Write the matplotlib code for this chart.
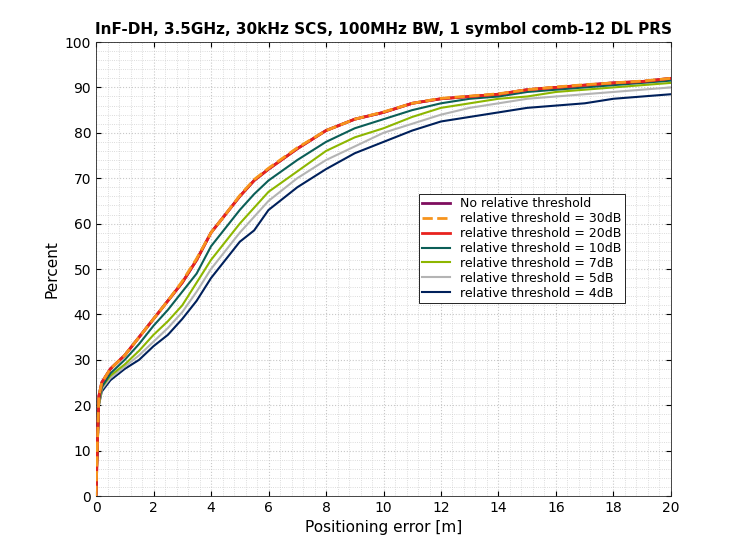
import matplotlib
matplotlib.use("Agg")
import matplotlib.pyplot as plt
from matplotlib.ticker import MultipleLocator

x = [0,0.05,0.1,0.2,0.5,1,1.5,2,2.5,3,3.5,4,4.5,5,5.5,6,7,8,9,10,11,12,13,14,15,16,17,18,19,20]
y_none = [0,12,22,25,28,31,35,39,43,47,52,58,62,66,69.5,72,76.5,80.5,83,84.5,86.5,87.5,88,88.5,89.5,90,90.5,91,91.3,92]
y_30 = [0,12,22,25,28,31,35,39,43,47.3,52.3,58,62,66.2,69.7,72.2,76.7,80.5,83,84.6,86.5,87.6,88.1,88.6,89.5,90.1,90.6,91,91.4,92]
y_20 = [0,12,22,25,28,31,35,39,43,47,52,58,62,66,69.5,72,76.5,80.5,83,84.5,86.5,87.5,88,88.5,89.5,90,90.5,91,91.3,92]
y_10 = [0,11,21,24,27,30,33.5,37.5,41,45,49,55,59,63,66.5,69.5,74,78,81,83,85,86.5,87.5,88,89,89.5,90,90.5,91,91.5]
y_7 = [0,10,20,24,26.5,29,32,35.5,38.5,42,47,52,56,60,63.5,67,71.5,76,79,81,83.5,85.5,86.5,87.5,88,89,89.5,90,90.5,91]
y_5 = [0,10,20,23.5,26,28.5,31,34,37,40.5,45,50,54,58,61.5,65,70,74,77,80,82,84,85.5,86.5,87.5,88,88.5,89,89.5,90]
y_4 = [0,10,20,23,25.5,28,30,33,35.5,39,43,48,52,56,58.5,63,68,72,75.5,78,80.5,82.5,83.5,84.5,85.5,86,86.5,87.5,88,88.5]

labels = ["No relative threshold", "relative threshold = 30dB", "relative threshold = 20dB",
          "relative threshold = 10dB", "relative threshold = 7dB", "relative threshold = 5dB",
          "relative threshold = 4dB"]
series = [y_none, y_30, y_20, y_10, y_7, y_5, y_4]
colors = ["#7E0D5E", "#F7941D", "#E8221E", "#0B5E57", "#8DB600", "#B4B4B4", "#00205B"]
styles = ["-", "--", "-", "-", "-", "-", "-"]

fig = plt.figure(figsize=(7.42, 5.58), dpi=100)
ax = fig.add_axes([0.1294, 0.1111, 0.7749, 0.8136])
order = [6, 5, 4, 3, 0, 2, 1]
lines = {}
for i in order:
    (l,) = ax.plot(x, series[i], color=colors[i], ls=styles[i],
                   lw=2 if i in (0, 1, 2) else 1.5, label=labels[i], zorder=3)
    lines[i] = l
ax.set_xlim(0, 20)
ax.set_ylim(0, 100)
ax.xaxis.set_major_locator(MultipleLocator(2))
ax.yaxis.set_major_locator(MultipleLocator(10))
ax.xaxis.set_minor_locator(MultipleLocator(0.4))
ax.yaxis.set_minor_locator(MultipleLocator(2))
ax.grid(which="major", color="#c8c8c8", ls=":", lw=0.8)
ax.grid(which="minor", color="#d0d0d0", ls=":", lw=0.6)
ax.tick_params(which="both", direction="in", top=True, right=True, labelsize=10)
ax.tick_params(which="minor", length=0)
for s in ax.spines.values():
    s.set_color("#262626")
    s.set_linewidth(0.6)
ax.set_xlabel("Positioning error [m]", fontsize=11)
ax.set_ylabel("Percent", fontsize=11)
ax.set_title("InF-DH, 3.5GHz, 30kHz SCS, 100MHz BW, 1 symbol comb-12 DL PRS", fontsize=11, fontweight="bold")
leg = ax.legend([lines[i] for i in range(7)], labels, loc="upper left", bbox_to_anchor=(0.55, 0.68),
                fontsize=9, frameon=True, fancybox=False, edgecolor="black", framealpha=1,
                handlelength=2.2, borderpad=0.3, labelspacing=0.15)
leg.get_frame().set_linewidth(0.6)
fig.savefig("out.png", dpi=100)
